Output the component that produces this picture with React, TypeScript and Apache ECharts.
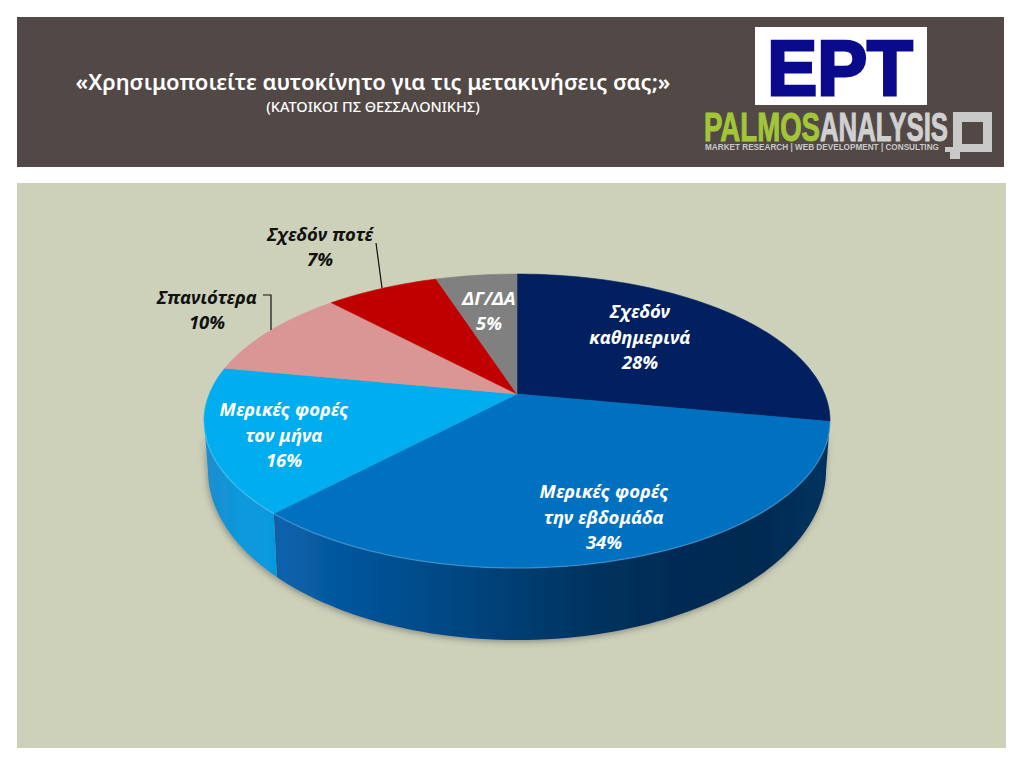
import React, { useEffect, useRef } from "react";
import * as echarts from "echarts";

const categories = ["Σχεδόν\nκαθημερινά", "Μερικές φορές\nτην εβδομάδα", "Μερικές φορές\nτον μήνα", "Σπανιότερα", "Σχεδόν ποτέ", "ΔΓ/ΔΑ"];
const shares = [28, 34, 16, 10, 7, 5];

const topColors = ["#02205F", "#0070C0", "#00ADEF", "#D99694", "#C00000", "#808080"];
const wallStops: (string[] | null)[] = [
  null,
  ["#0A64AE", "#04549A", "#004A87", "#003E74", "#00335F", "#012C54", "#012A50", "#06335F"],
  ["#1F8CCC", "#0A99DC", "#0699DD"],
  null, null, null,
];
const labelCenters = [[640, 336], [604, 516], [284, 434], [207, 309], [320, 246], [489, 310]];
const labelColors = ["#fff", "#fff", "#fff", "#111", "#111", "#fff"];
const leaderLines: (number[][] | null)[] = [
  null, null, null,
  [[263, 295], [271, 295], [271, 330]],
  [[376, 243], [382, 288]],
  null,
];

const APEX = { x: 517, y: 394 };
const K = 0.184;
const TOP = { a: 307.7, b: 142, y0: APEX.y };
const BASE = { a: 303.8, b: 164.2, y0: 438.8 };
const WALL_FROM = 100.6;
const WALL_TO = 259.4;
const LABEL_FONT = '"Noto Sans", sans-serif';

function project(deg: number, m: { a: number; b: number; y0: number }): number[] {
  const t = (deg * Math.PI) / 180;
  const u = Math.sin(t);
  const v = -Math.cos(t);
  const d = 1 - K * v;
  return [APEX.x + (m.a * u) / d, m.y0 + (m.b * v) / d];
}
function arc(from: number, to: number, m: { a: number; b: number; y0: number }): number[][] {
  const n = Math.max(2, Math.ceil(Math.abs(to - from) / 1.5));
  const pts: number[][] = [];
  for (let i = 0; i <= n; i++) pts.push(project(from + ((to - from) * i) / n, m));
  return pts;
}
const total = shares.reduce((s, v) => s + v, 0);
function sliceAngles(i: number): [number, number] {
  let c = 0;
  for (let j = 0; j < i; j++) c += shares[j];
  return [(c / total) * 360, ((c + shares[i]) / total) * 360];
}
function hGradient(stops: string[]) {
  return {
    type: "linear", x: 0, y: 0, x2: 1, y2: 0,
    colorStops: stops.map((color, i) => ({ offset: i / (stops.length - 1), color })),
  };
}

function rectEl(x: number, y: number, w: number, h: number, fill: string) {
  return { type: "rect", shape: { x, y, width: w, height: h }, style: { fill }, silent: true };
}
function textEl(text: string, x: number, y: number, font: string, fill: string, extra: any = {}) {
  const { scaleX, align, ...style } = extra;
  return {
    type: "text", x, y, originX: 0, originY: 0, scaleX: scaleX ?? 1, silent: true,
    style: { text, font, fill, textAlign: align ?? "center", textVerticalAlign: "middle", ...style },
  };
}

export default function App() {
  const ref = useRef<HTMLDivElement>(null);
  useEffect(() => {
    if (!ref.current) return;
    const chart = echarts.init(ref.current, undefined, { renderer: "svg" });
    const data = shares.map((value, i) => ({ name: categories[i], value }));
    chart.setOption({
      animation: false,
      backgroundColor: "#fff",
      graphic: {
        elements: [
          { ...rectEl(17, 17, 987, 150, "#524846"), z: -10 },
          { ...rectEl(17, 183, 989, 565, "#CDD1B9"), z: -10 },
          textEl("«Χρησιμοποιείτε αυτοκίνητο για τις μετακινήσεις σας;»", 373, 81, '600 22px "Noto Sans", sans-serif', "#fff"),
          textEl("(ΚΑΤΟΙΚΟΙ ΠΣ ΘΕΣΣΑΛΟΝΙΚΗΣ)", 373, 106, '500 14.5px "Noto Sans", sans-serif', "#fff"),
          rectEl(755, 27, 172, 78, "#fff"),
          textEl("EPT", 840, 68, 'bold 78px "Liberation Sans", sans-serif', "#0A0A8C", { scaleX: 0.96, stroke: "#0A0A8C", lineWidth: 3 }),
          textEl("PALMOS", 704, 127, 'bold 40px "Liberation Sans", sans-serif', "#A3C639", { align: "left", scaleX: 0.69, stroke: "#A3C639", lineWidth: 1 }),
          textEl("ANALYSIS", 820, 127, 'bold 40px "Liberation Sans", sans-serif', "#D0D0D0", { align: "left", scaleX: 0.645, stroke: "#D0D0D0", lineWidth: 1 }),
          textEl("MARKET RESEARCH | WEB DEVELOPMENT | CONSULTING", 705, 147, 'bold 9px "Liberation Sans", sans-serif', "#C8C8C8", { align: "left", scaleX: 0.91 }),
          rectEl(953, 112, 39, 40, "#C9C9C9"),
          rectEl(962, 122, 21, 22, "#524846"),
          rectEl(950, 152, 10, 7, "#C9C9C9"),
          rectEl(945, 147, 8, 5, "#C9C9C9"),
        ],
      },
      series: [
        {
          type: "custom",
          coordinateSystem: "none",
          z: 2,
          silent: true,
          data,
          renderItem(params: any) {
            const i = params.dataIndex;
            const [a0, a1] = sliceAngles(i);
            const from = Math.max(a0, WALL_FROM - 0.2);
            const to = Math.min(a1, WALL_TO);
            const stops = wallStops[i];
            if (to <= from || !stops) return { type: "group", children: [] };
            return {
              type: "polygon",
              shape: { points: [...arc(from, to, TOP), ...arc(to, from, BASE)] },
              style: {
                fill: hGradient(stops),
                shadowBlur: 6, shadowColor: "rgba(60,60,60,0.45)", shadowOffsetX: -1, shadowOffsetY: 2,
              },
            };
          },
        },
        {
          type: "custom",
          coordinateSystem: "none",
          z: 3,
          silent: true,
          data,
          renderItem(params: any) {
            const i = params.dataIndex;
            const [a0, a1] = sliceAngles(i);
            const color = topColors[i];
            const children: any[] = [
              {
                type: "polygon",
                shape: { points: [[APEX.x, APEX.y], ...arc(a0, a1, TOP)] },
                style: { fill: color, stroke: color, lineWidth: 0.6 },
              },
            ];
            const from = Math.max(a0, WALL_FROM);
            const to = Math.min(a1, WALL_TO);
            if (to > from) {
              children.push({
                type: "polyline",
                shape: { points: arc(from, to, TOP) },
                style: { fill: "none", stroke: "rgba(255,255,255,0.18)", lineWidth: 1.5 },
              });
            }
            return { type: "group", children };
          },
        },
        {
          type: "custom",
          coordinateSystem: "none",
          z: 4,
          silent: true,
          data,
          renderItem(params: any, api: any) {
            const i = params.dataIndex;
            const children: any[] = [
              {
                type: "text",
                x: labelCenters[i][0],
                y: labelCenters[i][1],
                style: {
                  text: `${categories[i]}\n${api.value(0)}%`,
                  font: `italic bold 18.5px ${LABEL_FONT}`,
                  lineHeight: 25.5,
                  fill: labelColors[i],
                  textAlign: "center",
                  textVerticalAlign: "middle",
                },
              },
            ];
            const line = leaderLines[i];
            if (line) {
              children.push({
                type: "polyline",
                shape: { points: line },
                style: { fill: "none", stroke: "#111", lineWidth: 1.2 },
              });
            }
            return { type: "group", children };
          },
        },
      ],
    });
    return () => chart.dispose();
  }, []);
  return <div ref={ref} style={{ position: "fixed", left: 0, top: 0, width: 1024, height: 768 }} />;
}
